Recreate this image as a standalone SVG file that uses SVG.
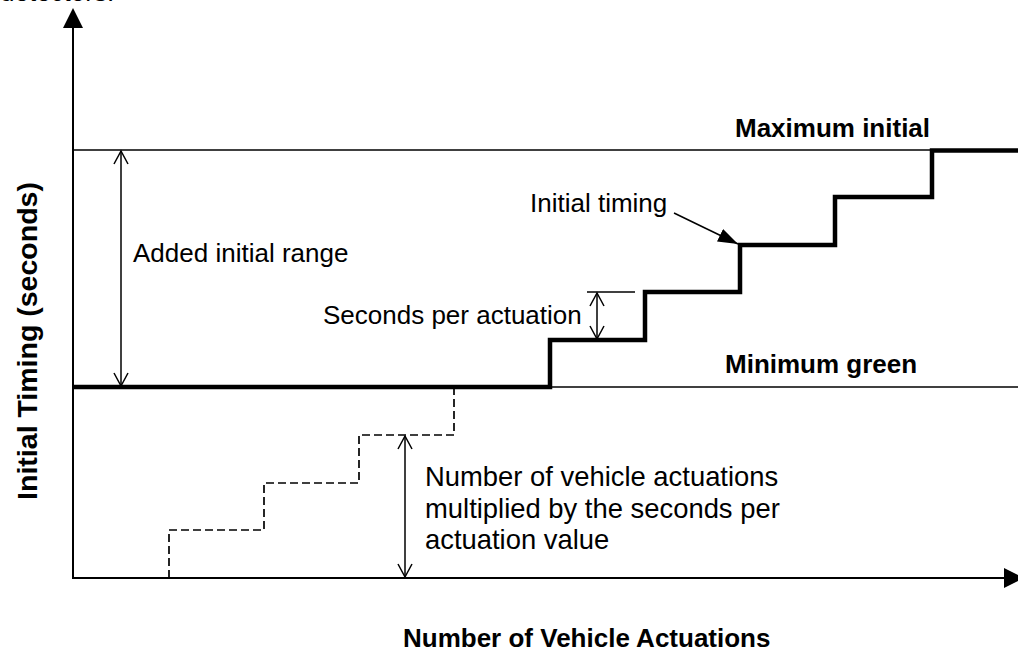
<svg xmlns="http://www.w3.org/2000/svg" width="1018" height="654" viewBox="0 0 1018 654">
<style>
  .t{font-family:"Liberation Sans",Arial,sans-serif;font-size:26px;fill:#000}
  .b{font-weight:bold}
  .n{font-size:27.4px}
  .yt{font-size:28.5px}
  .thin{stroke:#000;stroke-width:1.3;fill:none}
  .axis{stroke:#000;stroke-width:2;fill:none}
  .dim{stroke:#000;stroke-width:1.5;fill:none}
</style>
<defs>
  <marker id="open" viewBox="-1 -1 16 16" markerWidth="16" markerHeight="16" refX="13" refY="7" orient="auto-start-reverse" markerUnits="userSpaceOnUse">
    <path d="M0,0 L13,7 L0,14" fill="none" stroke="#000" stroke-width="1.5"/>
  </marker>
  <marker id="solid" viewBox="0 0 20 14" markerWidth="20" markerHeight="14" refX="20" refY="7" orient="auto" markerUnits="userSpaceOnUse">
    <path d="M0,0 L20,7 L0,14 Z" fill="#000"/>
  </marker>
</defs>
<text class="t" x="0" y="1">detectors.</text>
<g id="axes">
  <line class="axis" x1="73" y1="26" x2="73" y2="579"/>
  <path d="M63,28 L73,8 L83,28 Z" fill="#000"/>
  <line class="axis" x1="72" y1="578" x2="1006" y2="578"/>
  <path d="M1004,568 L1024,578 L1004,588 Z" fill="#000"/>
</g>
<g id="reference-lines">
  <line class="thin" x1="73" y1="150" x2="932" y2="150"/>
  <line class="thin" x1="73" y1="387" x2="1018" y2="387"/>
</g>
<g id="initial-timing-curve">
  <path d="M73,387 H550 V340 H645 V292 H740 V245 H835 V197 H932 V150.5 H1018" fill="none" stroke="#000" stroke-width="4.5" stroke-linejoin="miter"/>
</g>
<g id="actuation-steps">
  <path d="M169,578 V530 H264 V483 H359 V435 H454 V387" fill="none" stroke="#000" stroke-width="1.7" stroke-dasharray="8 4"/>
</g>
<g id="connectors">
  <line class="dim" x1="121" y1="151" x2="121" y2="386" marker-start="url(#open)" marker-end="url(#open)"/>
  <line class="thin" x1="587" y1="292" x2="635" y2="292"/>
  <line class="dim" x1="597" y1="293" x2="597" y2="339" marker-start="url(#open)" marker-end="url(#open)"/>
  <line class="dim" x1="405" y1="436" x2="405" y2="577" marker-start="url(#open)" marker-end="url(#open)"/>
  <line class="dim" x1="674" y1="213" x2="738" y2="244" marker-end="url(#solid)"/>
</g>
<g id="label-max"><text class="t b" x="735" y="137">Maximum initial</text></g>
<g id="label-min"><text class="t b" x="725" y="373">Minimum green</text></g>
<g id="label-added"><text class="t" x="133" y="262">Added initial range</text></g>
<g id="label-initial-timing"><text class="t" x="530" y="212">Initial timing</text></g>
<g id="label-seconds"><text class="t" x="323" y="324">Seconds per actuation</text></g>
<g id="label-number">
  <text class="t n" x="425" y="486">Number of vehicle actuations</text>
  <text class="t n" x="425" y="518">multiplied by the seconds per</text>
  <text class="t n" x="425" y="549">actuation value</text>
</g>
<g id="y-axis-title"><text class="t b yt" text-anchor="middle" transform="translate(37,341) rotate(-90)">Initial Timing (seconds)</text></g>
<g id="x-axis-title"><text class="t b" x="403" y="647">Number of Vehicle Actuations</text></g>
</svg>
